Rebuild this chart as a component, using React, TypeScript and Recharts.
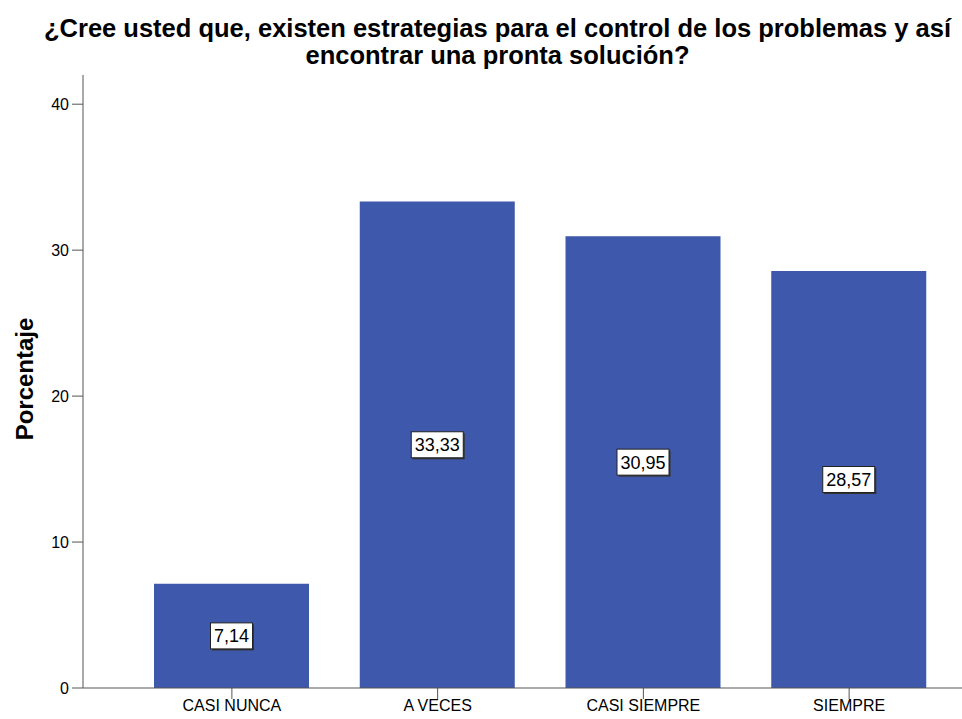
import { Bar, BarChart, LabelList, XAxis, YAxis } from 'recharts';

const categories = ['CASI NUNCA', 'A VECES', 'CASI SIEMPRE', 'SIEMPRE'];
const percentages = [7.14, 33.33, 30.95, 28.57];
const yTicks = [0, 10, 20, 30, 40];

const data = categories.map((name, i) => ({ name, value: percentages[i] }));

const font = '"Liberation Sans", Arial, sans-serif';
const axisColor = '#555';
const tickStyle = { fill: '#000', fontSize: 16, fontFamily: font };

const fmt = (v: number) => v.toFixed(2).replace('.', ',');

// rough Arial widths for digits and comma
const textWidth = (s: string, size: number) =>
  s.split('').reduce((w, ch) => w + (ch === ',' ? 0.278 : 0.556), 0) * size;

function ValueBox(props: any) {
  const { x, y, width, height, value } = props;
  const label = fmt(value);
  const cx = x + width / 2;
  const cy = y + height / 2;
  const w = Math.round(textWidth(label, 18) + 7);
  const h = 26;
  return (
    <g>
      <rect x={cx - w / 2 + 1.5} y={cy - h / 2 + 1.5} width={w} height={h} fill="#333" />
      <rect x={cx - w / 2} y={cy - h / 2} width={w} height={h} fill="#fff" stroke="#222" strokeWidth={1} />
      <text x={cx} y={cy + 6.5} textAnchor="middle" fontSize={18} fontFamily={font} fill="#000">
        {label}
      </text>
    </g>
  );
}

export default function App() {
  return (
    <div style={{ position: 'absolute', left: 0, top: 0, width: 962, height: 719, background: '#fff', overflow: 'hidden' }}>
      <div
        style={{
          position: 'absolute',
          left: 0,
          top: 15,
          width: 995,
          textAlign: 'center',
          fontFamily: font,
          fontWeight: 'bold',
          fontSize: 25.5,
          lineHeight: '27px',
          color: '#000',
          whiteSpace: 'nowrap',
        }}
      >
        ¿Cree usted que, existen estrategias para el control de los problemas y así
        <br />
        encontrar una pronta solución?
      </div>
      <div
        style={{
          position: 'absolute',
          left: 25,
          top: 379,
          transform: 'translate(-50%, -50%) rotate(-90deg)',
          fontFamily: font,
          fontWeight: 'bold',
          fontSize: 24,
          color: '#000',
          whiteSpace: 'nowrap',
        }}
      >
        Porcentaje
      </div>
      <BarChart
        width={962}
        height={719}
        data={data}
        margin={{ top: 75, right: 0, bottom: 0, left: 0 }}
        barSize={155}
      >
        <XAxis
          dataKey="name"
          height={31}
          padding={{ left: 46, right: 10 }}
          tick={tickStyle}
          tickSize={11}
          tickMargin={1}
          stroke={axisColor}
          interval={0}
        />
        <YAxis
          width={83}
          domain={[0, 42]}
          ticks={yTicks}
          tick={tickStyle}
          tickSize={11}
          tickMargin={3}
          stroke={axisColor}
          allowDataOverflow
        />
        <Bar dataKey="value" fill="#3e58ab" isAnimationActive={false}>
          <LabelList dataKey="value" content={ValueBox} />
        </Bar>
      </BarChart>
    </div>
  );
}
